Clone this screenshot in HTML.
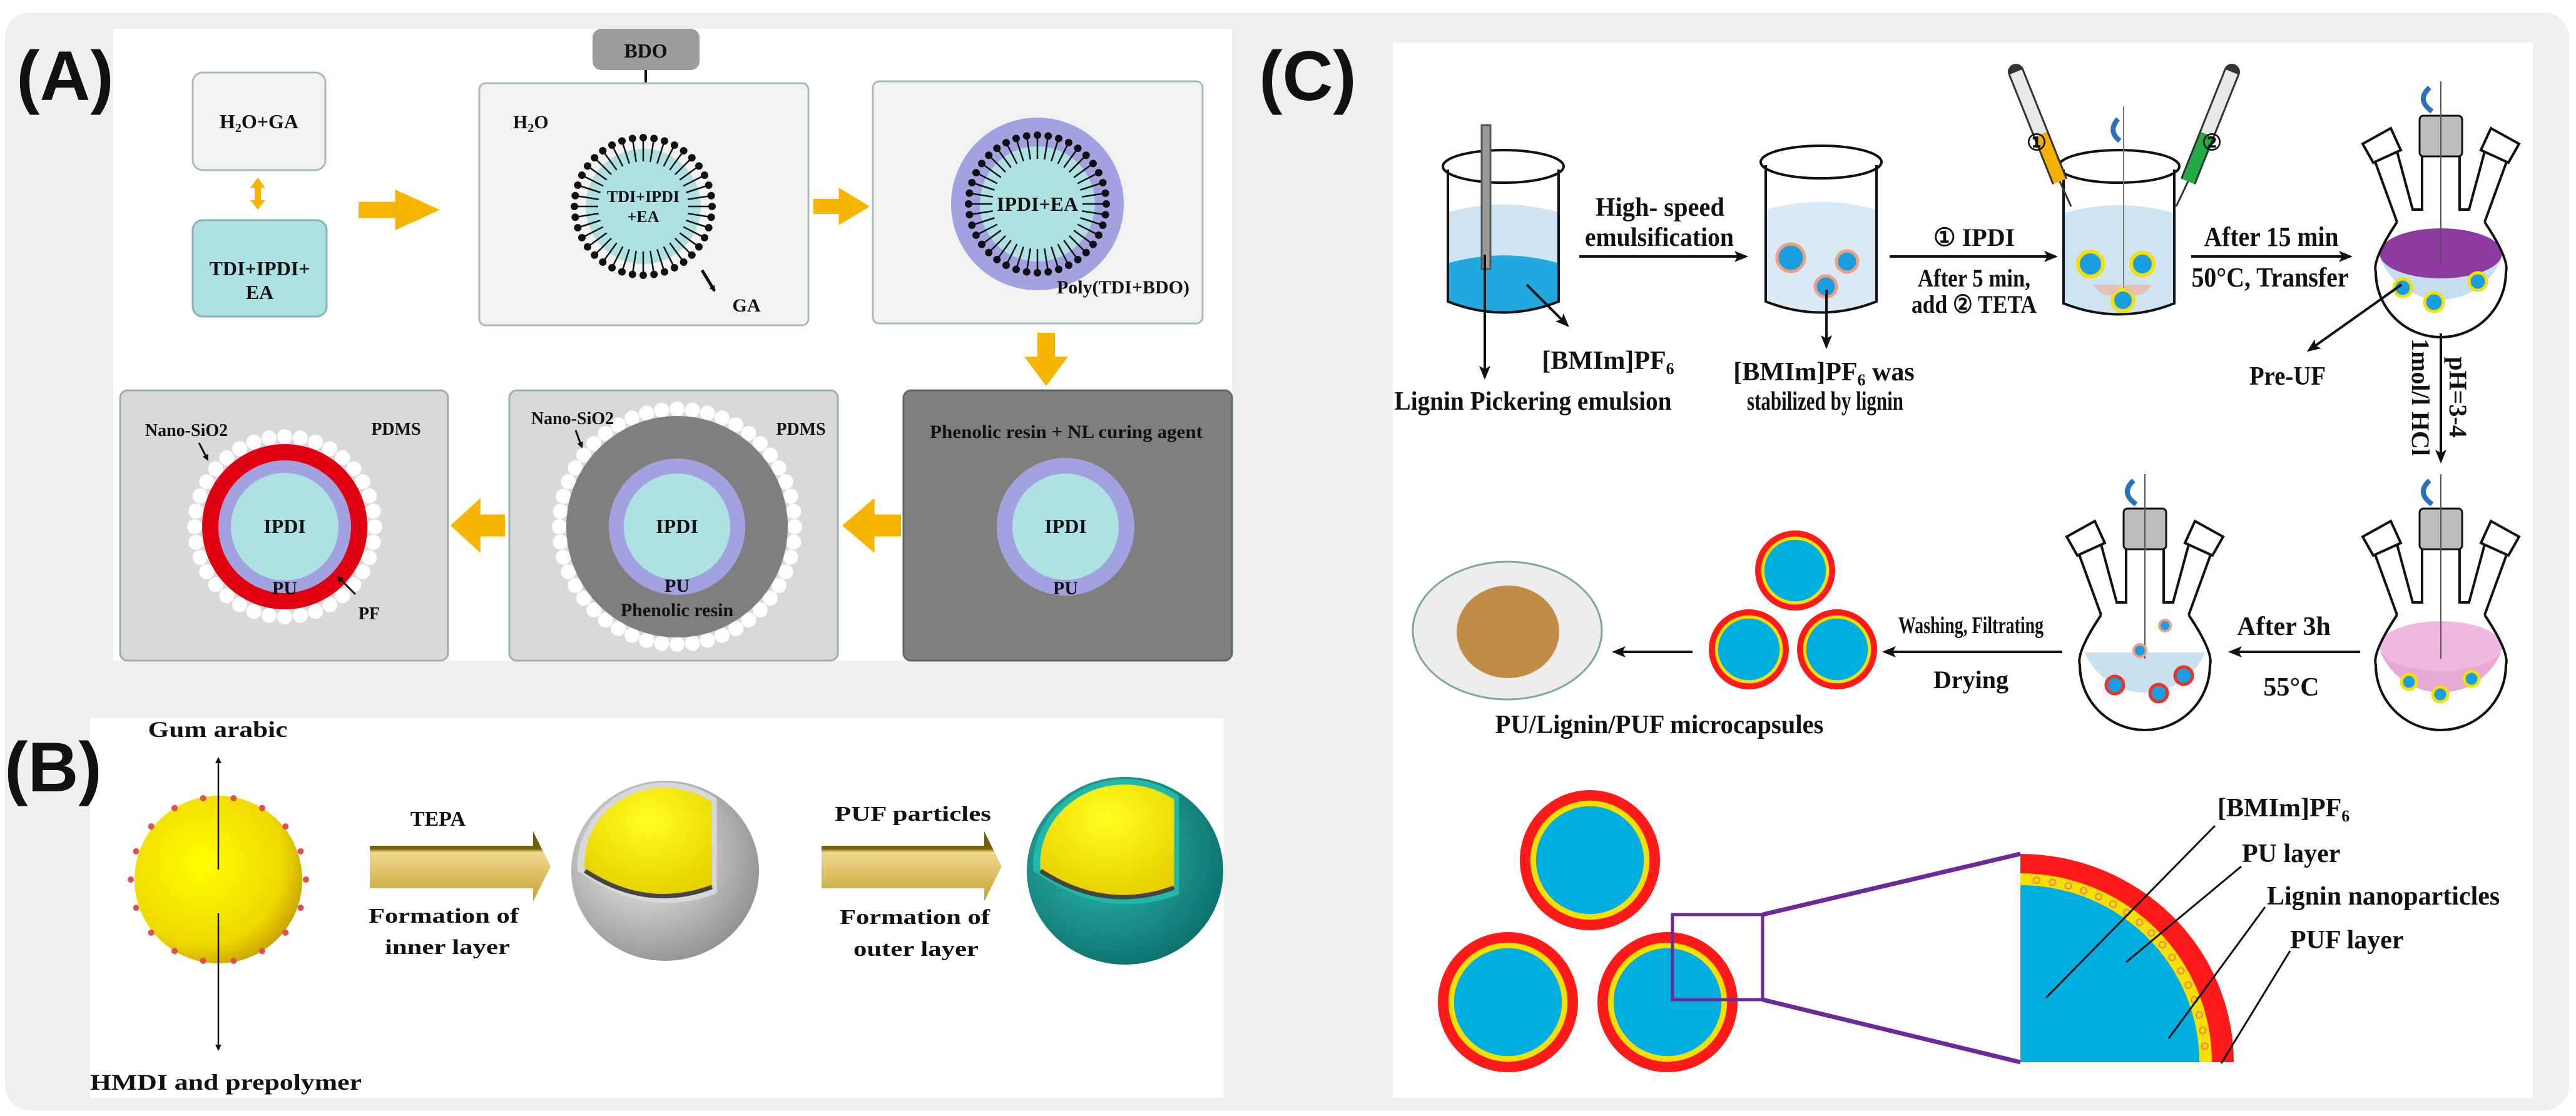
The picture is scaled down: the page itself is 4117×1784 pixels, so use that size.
<!DOCTYPE html>
<html><head><meta charset="utf-8"><style>
html,body{margin:0;padding:0;background:#fff}
svg{display:block}
text{font-family:"Liberation Serif",serif;font-weight:bold;fill:#111}
.sans{font-family:"Liberation Sans",sans-serif}
</style></head><body>
<svg id="s" width="4117" height="1784" viewBox="0 0 4117 1784" xmlns="http://www.w3.org/2000/svg">
<defs>
<radialGradient id="gy" cx="0.4" cy="0.4" r="0.7"><stop offset="0" stop-color="#ffff00"/><stop offset="0.7" stop-color="#f0d800"/><stop offset="1" stop-color="#b89000"/></radialGradient>
<radialGradient id="gy2" cx="0.5" cy="0.3" r="0.7"><stop offset="0" stop-color="#ffff20"/><stop offset="1" stop-color="#e8d000"/></radialGradient>
<radialGradient id="gg" cx="0.4" cy="0.4" r="0.7"><stop offset="0" stop-color="#f4f4f4"/><stop offset="1" stop-color="#8a8a8a"/></radialGradient>
<radialGradient id="gt" cx="0.4" cy="0.4" r="0.7"><stop offset="0" stop-color="#30c0b0"/><stop offset="1" stop-color="#0a6a66"/></radialGradient>
<linearGradient id="ga" x1="0" y1="0" x2="0" y2="1"><stop offset="0" stop-color="#6a5400"/><stop offset="0.25" stop-color="#7a6408"/><stop offset="0.3" stop-color="#efd890"/><stop offset="1" stop-color="#c8a030"/></linearGradient>
<marker id="ar" markerWidth="10" markerHeight="10" refX="8" refY="5" orient="auto" markerUnits="userSpaceOnUse"><path d="M0,0 L10,5 L0,10 z" fill="#111"/></marker>
<marker id="arb" markerWidth="22" markerHeight="22" refX="18" refY="11" orient="auto" markerUnits="userSpaceOnUse"><path d="M0,2 L22,11 L0,20 L5,11 z" fill="#111"/></marker>
</defs>
<rect x="0" y="0" width="4117" height="1784" fill="#ffffff"/>
<rect x="8" y="20" width="4098" height="1755" rx="40" fill="#efefef"/>
<rect x="181" y="46" width="1788" height="1010" fill="#fff"/>
<rect x="144" y="1148" width="1812" height="607" fill="#fff"/>
<rect x="2226" y="68" width="1822" height="1687" fill="#fff"/>
<g id="g"></g>
</svg>
<script>
const g=document.getElementById('g');let h='';
function T(x,y,s,fs,len,anc,cls,extra){h+=`<text x="${x}" y="${y}" font-size="${fs}" text-anchor="${anc||'middle'}" ${len?`textLength="${len}" lengthAdjust="spacingAndGlyphs"`:''} ${cls?`class="${cls}"`:''} ${extra||''}>${s}</text>`;}
function C(cx,cy,r,f,st,sw){h+=`<circle cx="${cx}" cy="${cy}" r="${r}" fill="${f}" ${st?`stroke="${st}" stroke-width="${sw||2}"`:''}/>`;}
function L(x1,y1,x2,y2,w,m,c){h+=`<line x1="${x1}" y1="${y1}" x2="${x2}" y2="${y2}" stroke="${c||'#111'}" stroke-width="${w||3}" ${m?`marker-end="url(#${m})"`:''}/>`;}
function R(x,y,w,hh,f,st,rx){h+=`<rect x="${x}" y="${y}" width="${w}" height="${hh}" rx="${rx||0}" fill="${f}" ${st?`stroke="${st}" stroke-width="3"`:''}/>`;}
T(104,160,'(A)',112,null,'middle','sans');
T(2090,160,'(C)',112,null,'middle','sans');
T(85,1265,'(B)',112,null,'middle','sans');
R(947,46,171,66,'#9c9c9c',null,14);T(1032,92,'BDO',32);
L(1032,112,1032,155,4,'ar');
R(308,116,212,156,'#f2f2f2','#a6bcbc',16);T(414,205,'H<tspan font-size="20" dy="6">2</tspan><tspan dy="-6">O+GA</tspan>',32);
R(308,352,214,154,'#aee2e2','#8ab0b0',16);T(415,440,'TDI+IPDI+',32);T(415,478,'EA',32);
h+=`<path d="M412,284 L400,300 L407,300 L407,320 L400,320 L412,335 L424,320 L417,320 L417,300 L424,300 Z" fill="#f7b500"/>`;
function oarrow(x,y,w,hh,dir){
  let p='';
  if(dir=='r'){let sh=w*0.45;p=`M${x},${y+hh*0.3} L${x+sh},${y+hh*0.3} L${x+sh},${y} L${x+w},${y+hh/2} L${x+sh},${y+hh} L${x+sh},${y+hh*0.7} L${x},${y+hh*0.7} Z`;}
  if(dir=='l'){let sh=w*0.45;p=`M${x+w},${y+hh*0.3} L${x+w-sh},${y+hh*0.3} L${x+w-sh},${y} L${x},${y+hh/2} L${x+w-sh},${y+hh} L${x+w-sh},${y+hh*0.7} L${x+w},${y+hh*0.7} Z`;}
  if(dir=='d'){let sh=hh*0.45;p=`M${x+w*0.3},${y} L${x+w*0.3},${y+sh} L${x},${y+sh} L${x+w/2},${y+hh} L${x+w},${y+sh} L${x+w*0.7},${y+sh} L${x+w*0.7},${y} Z`;}
  h+=`<path d="${p}" fill="#f7b500"/>`;
}
oarrow(573,303,130,65,'r');oarrow(1300,300,90,60,'r');oarrow(1637,532,70,85,'d');oarrow(1346,796,94,88,'l');oarrow(720,796,87,88,'l');
R(766,133,526,387,'#f2f2f2','#a6bcbc',10);
R(1395,130,527,387,'#f2f2f2','#a6bcbc',10);
T(820,205,'H<tspan font-size="20" dy="6">2</tspan><tspan dy="-6">O</tspan>',30,null,'start');
function micelle(cx,cy){
  C(cx,cy,92,'#aee2e2');C(cx,cy,70,'#aee2e2');
  const n=40;for(let i=0;i<n;i++){const a=i/n*2*Math.PI;const c=Math.cos(a),s=Math.sin(a);
    L(cx+c*108,cy+s*108,cx+c*72,cy+s*72,2.5);C(cx+c*110,cy+s*110,6,'#111');}
}
C(1658,326,138,'#a3a2e0');micelle(1658,326);micelle(1028,330);
T(1028,323,'TDI+IPDI',26);T(1028,355,'+EA',26);
T(1658,337,'IPDI+EA',32);
L(1122,432,1142,465,5,'ar');T(1193,498,'GA',30);
T(1795,469,'Poly(TDI+BDO)',30);
R(1444,624,525,432,'#7f7f7f','#5a6a6a',12);
R(814,624,525,432,'#d9d9d9','#9cb0b0',12);
R(192,624,524,432,'#d9d9d9','#9cb0b0',12);
T(1704,700,'Phenolic resin + NL curing agent',30,436);
C(1703,842,110,'#a3a2e0');C(1703,842,85,'#aee2e2');T(1703,852,'IPDI',32);T(1703,950,'PU',30);
function dots(cx,cy,r,n,dr){for(let i=0;i<n;i++){const a=i/n*2*Math.PI;C(cx+Math.cos(a)*r,cy+Math.sin(a)*r,dr,'#fff');}}
dots(1082,842,188,48,12);C(1082,842,177,'#7f7f7f');C(1082,842,109,'#a3a2e0');C(1082,842,85,'#aee2e2');
T(1082,852,'IPDI',32);T(1082,946,'PU',30);T(1082,985,'Phenolic resin',30);
T(915,678,'Nano-SiO2',28);T(1280,695,'PDMS',28);L(920,688,930,715,3,'ar');
dots(455,842,144,36,12);C(455,842,132,'#e0000f');C(455,842,106,'#a3a2e0');C(455,842,86,'#aee2e2');
T(455,852,'IPDI',32);T(455,950,'PU',30);T(298,697,'Nano-SiO2',28);T(633,695,'PDMS',28);L(318,708,332,735,3,'ar');
L(568,950,540,922,3,'ar');T(590,990,'PF',28);
// Panel B
T(348,1178,'Gum arabic',36,223);T(361,1742,'HMDI and prepolymer',36,434);
C(349,1406,134,'url(#gy)');
for(let i=0;i<18;i++){const a=i/18*2*Math.PI;C(349+Math.cos(a)*140,1406+Math.sin(a)*132,5,'#e05050');}
L(349,1390,349,1212,2.5,'ar');L(349,1460,349,1678,2.5,'ar');
function garrow(x,y,w){h+=`<path d="M${x},${y+23} L${x+w-28},${y+23} L${x+w-28},${y} L${x+w},${y+56} L${x+w-28},${y+112} L${x+w-28},${y+91} L${x},${y+91} Z" fill="url(#ga)"/>`;}
garrow(591,1329,289);garrow(1313,1329,288);
T(700,1320,'TEPA',34);T(709,1475,'Formation of',34,240);T(715,1525,'inner layer',34,200);
T(1459,1312,'PUF particles',34,250);T(1462,1477,'Formation of',34,240);T(1464,1528,'outer layer',34,200);
function cutSphere(cx,cy,rx,ry,fill,rim){
  h+=`<ellipse cx="${cx}" cy="${cy}" rx="${rx}" ry="${ry}" fill="${fill}"/>`;
  h+=`<path d="M${cx-rx+10},${cy} A${rx-10},${ry-10} 0 0 1 ${cx+rx*0.55},${cy-ry*0.8} L${cx+rx*0.55},${cy+ry*0.25} Q${cx-rx*0.2},${cy+ry*0.55} ${cx-rx+10},${cy} Z" fill="${rim}"/>`;
  h+=`<path d="M${cx-rx+22},${cy} A${rx-22},${ry-24} 0 0 1 ${cx+rx*0.5},${cy-ry*0.76} L${cx+rx*0.5},${cy+ry*0.18} Q${cx-rx*0.2},${cy+ry*0.45} ${cx-rx+22},${cy} Z" fill="url(#gy2)"/>`;
  h+=`<path d="M${cx-rx+22},${cy} Q${cx-rx*0.2},${cy+ry*0.45} ${cx+rx*0.5},${cy+ry*0.18}" fill="none" stroke="#444" stroke-width="7"/>`;
}
cutSphere(1063,1392,150,144,'url(#gg)','#d8d8d8');
cutSphere(1798,1392,157,150,'url(#gt)','#20b8a8');
// Panel C
function beaker(x,y,w,hh,liq,bl){
  h+=`<path d="M${x+8},${y+hh*0.4} L${x+8},${y+hh-20} Q${x+w/2},${y+hh+15} ${x+w-8},${y+hh-20} L${x+w-8},${y+hh*0.4} Q${x+w/2},${y+hh*0.4-25} ${x+8},${y+hh*0.4} Z" fill="${liq}"/>`;
  if(bl)h+=`<path d="M${x+8},${y+hh*0.7} L${x+8},${y+hh-20} Q${x+w/2},${y+hh+15} ${x+w-8},${y+hh-20} L${x+w-8},${y+hh*0.7} Q${x+w/2},${y+hh*0.7-25} ${x+8},${y+hh*0.7} Z" fill="${bl}"/>`;
  h+=`<path d="M${x+8},${y+40} L${x+8},${y+hh-20} Q${x+w/2},${y+hh+15} ${x+w-8},${y+hh-20} L${x+w-8},${y+40}" fill="none" stroke="#111" stroke-width="4"/>`;
  h+=`<ellipse cx="${x+w/2}" cy="${y+35}" rx="${w/2}" ry="26" fill="none" stroke="#111" stroke-width="4"/>`;
}
beaker(2306,231,193,271,'#cfe4f2','#22aae0');
R(2368,200,14,230,'#9a9a9a','#555');
beaker(2814,224,193,278,'#dbe9f4');
C(2862,412,22,'#1a9ee0','#f0a080',5);C(2952,418,17,'#1a9ee0','#f0a080',5);C(2918,458,17,'#1a9ee0','#f0a080',5);
beaker(3290,231,193,274,'#cfe4f2');
L(3394,170,3394,500,2,null,'#777');
h+=`<path d="M3222,115 L3262,215" stroke="#333" stroke-width="26" stroke-linecap="round"/><path d="M3222,115 L3262,215" stroke="#e8e8e8" stroke-width="20"/>`;
h+=`<path d="M3262,215 L3292,290" stroke="#333" stroke-width="26"/><path d="M3262,215 L3292,290" stroke="#f5b000" stroke-width="20"/>`;
h+=`<path d="M3567,115 L3527,215" stroke="#333" stroke-width="26" stroke-linecap="round"/><path d="M3567,115 L3527,215" stroke="#e8e8e8" stroke-width="20"/>`;
h+=`<path d="M3527,215 L3497,290" stroke="#333" stroke-width="26"/><path d="M3527,215 L3497,290" stroke="#22aa44" stroke-width="20"/>`;
h+=`<path d="M3292,290 L3310,330 M3497,290 L3478,330" stroke="#333" stroke-width="3" fill="none"/>`;
C(3352,260,8,'#fff');
T(3255,240,'①',36);T(3535,240,'②',36);
h+=`<path d="M3385,190 Q3368,210 3388,225" fill="none" stroke="#2a70c0" stroke-width="8"/>`;
C(3341,422,20,'#1a9ee0','#f5e000',6);C(3424,422,18,'#1a9ee0','#f5e000',6);C(3393,480,17,'#1a9ee0','#f5e000',6);
h+=`<path d="M3345,455 Q3370,490 3392,455 Q3415,490 3440,455" fill="#e8b8a8" opacity="0.8"/>`;
L(2524,410,2790,410,4,'arb');L(3020,410,3285,410,4,'arb');L(3502,410,3756,410,4,'arb');
T(2653,345,'High- speed',42,206);T(2652,393,'emulsification',42,238);
T(3155,393,'① IPDI',40);T(3155,458,'After 5 min,',40,180);T(3155,500,'add ② TETA',40,200);
T(3630,393,'After 15 min',44,215);T(3628,458,'50°C, Transfer',44,251);
function flask(cx,top,liq,liq2){
  const by=top+305,r=104;
  h+=`<path d="M${cx-r+8},${by-20} A${r},${r} 0 0 0 ${cx+r-8},${by-20} Z" fill="${liq}"/>`;
  if(liq2)h+=`<ellipse cx="${cx}" cy="${by-30}" rx="${r-6}" ry="40" fill="${liq2}"/>`;
  h+=`<path d="M${cx-70},${by-80} Q${cx-110},${by-20} ${cx-r},${by} A${r},${r} 0 0 0 ${cx+r},${by} Q${cx+110},${by-20} ${cx+70},${by-80}" fill="none" stroke="#111" stroke-width="4"/>`;
  h+=`<path d="M${cx-70},${by-80} L${cx-110},${by-190} M${cx-72},${by-200} L${cx-45},${by-100} L${cx-30},${by-100} L${cx-30},${by-240} M${cx+30},${by-240} L${cx+30},${by-100} L${cx+45},${by-100} L${cx+72},${by-200} M${cx+70},${by-80} L${cx+110},${by-190}" fill="none" stroke="#111" stroke-width="4"/>`;
  h+=`<path d="M${cx-125},${by-205} L${cx-80},${by-230} L${cx-64},${by-195} L${cx-108},${by-175} Z M${cx+125},${by-205} L${cx+80},${by-230} L${cx+64},${by-195} L${cx+108},${by-175} Z" fill="#fff" stroke="#111" stroke-width="4"/>`;
  R(cx-34,top+55,68,65,'#bdbdbd','#111',6);
  L(cx,top,cx,by-10,2,null,'#555');
  h+=`<path d="M${cx-18},${top+10} Q${cx-40},${top+30} ${cx-14},${top+48}" fill="none" stroke="#2a70c0" stroke-width="8"/>`;
}
flask(3901,130,'#c5dff0','#8c3aa0');
flask(3901,758,'#e7a8d6','#f0b8e0');
flask(3428,758,'#c8e0f0');
C(3840,460,14,'#1a9ee0','#f5e000',5);C(3890,483,15,'#1a9ee0','#f5e000',5);C(3960,450,14,'#1a9ee0','#f5e000',5);
C(3850,1090,12,'#1a9ee0','#f5e000',5);C(3900,1110,12,'#1a9ee0','#f5e000',5);C(3950,1085,12,'#1a9ee0','#f5e000',5);
C(3380,1095,14,'#1a9ee0','#f03020',5);C(3450,1108,14,'#1a9ee0','#f03020',5);C(3490,1080,14,'#1a9ee0','#f03020',5);
C(3420,1040,10,'#1a9ee0','#f0a080',4);C(3460,1000,9,'#1a9ee0','#f0a080',4);
L(3838,455,3690,560,4,'arb');T(3656,615,'Pre-UF',42,122);
L(3901,533,3901,737,4,'arb');
T(0,0,'pH=3-4',40,null,'middle',null,'transform="translate(3915,635) rotate(90)"');
T(0,0,'1mol/l HCl',40,null,'middle',null,'transform="translate(3855,635) rotate(90)"');
L(2373,407,2373,603,4,'arb');L(2440,455,2505,520,4,'arb');L(2919,463,2919,554,4,'arb');
T(2570,590,'[BMIm]PF<tspan font-size="26" dy="8">6</tspan>',42);
T(2450,655,'Lignin Pickering emulsion',42,443);
T(2915,608,'[BMIm]PF<tspan font-size="26" dy="8">6</tspan><tspan dy="-8"> was</tspan>',42);
T(2917,655,'stabilized by lignin',42,250);
L(3772,1042,3565,1042,4,'arb');T(3650,1015,'After 3h',42);T(3662,1112,'55°C',42);
L(3296,1042,3012,1042,4,'arb');T(3150,1012,'Washing, Filtrating',38,232);T(3150,1100,'Drying',40);
L(2705,1042,2580,1042,4,'arb');
function cap(cx,cy,r){C(cx,cy,r,'#ff1a1a');C(cx,cy,r*0.85,'#f5e000');C(cx,cy,r*0.77,'#00aee0');}
cap(2869,912,64);cap(2795,1038,64);cap(2936,1038,64);
h+=`<ellipse cx="2409" cy="1008" rx="151" ry="110" fill="#ededed" stroke="#7aa8a0" stroke-width="3"/>`;
h+=`<ellipse cx="2410" cy="1010" rx="82" ry="74" fill="#c08c48"/>`;
T(2652,1172,'PU/Lignin/PUF microcapsules',42,525);
cap(2541,1375,112);cap(2410,1602,112);cap(2665,1602,112);
h+=`<rect x="2673" y="1462" width="144" height="136" fill="none" stroke="#6a2a9a" stroke-width="5"/>`;
L(2817,1462,3229,1365,7,null,'#6a2a9a');L(2817,1598,3229,1698,7,null,'#6a2a9a');
h+=`<path d="M3229,1698 L3229,1365 A341,333 0 0 1 3570,1698 Z" fill="#ff1a1a"/>`;
h+=`<path d="M3229,1698 L3229,1396 A306,302 0 0 1 3535,1698 Z" fill="#f5e000"/>`;
h+=`<path d="M3229,1698 L3229,1415 A286,283 0 0 1 3515,1698 Z" fill="#00aee0"/>`;
for(let i=1;i<18;i++){const a=i/18*Math.PI/2;C(3229+Math.sin(a)*296,1698-Math.cos(a)*292,5,'#f5e000','#f08060',2);}
L(3540,1320,3270,1595,3);L(3582,1385,3398,1538,3);L(3620,1450,3466,1660,3);L(3660,1520,3550,1700,3);
T(3544,1305,'[BMIm]PF<tspan font-size="26" dy="8">6</tspan>',42,null,'start');
T(3583,1378,'PU layer',42,null,'start');
T(3623,1446,'Lignin nanoparticles',42,null,'start');
T(3660,1516,'PUF layer',42,null,'start');
g.innerHTML=h;
</script>
</body></html>
